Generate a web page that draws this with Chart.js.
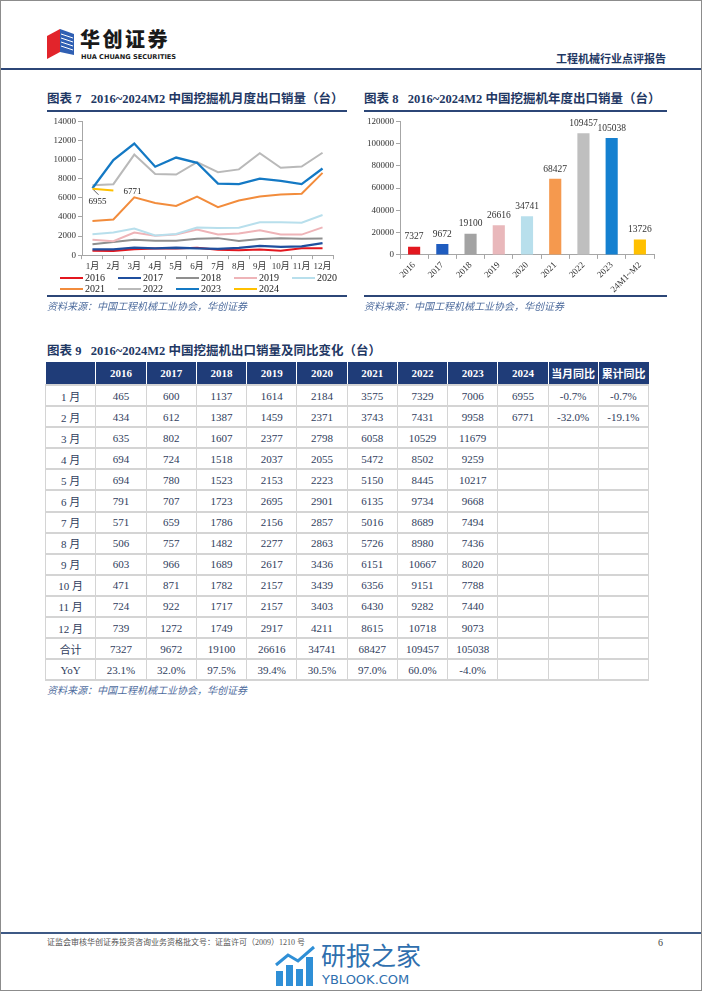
<!DOCTYPE html>
<html>
<head>
<meta charset="utf-8">
<script src="https://cdn.jsdelivr.net/npm/chart.js@4.4.1/dist/chart.umd.min.js"></script>
<style>
  body { margin: 0; background: #fff; }
  #page { position: relative; width: 702px; height: 991px; box-sizing: border-box; border: 1px solid #8c8c8c; overflow: hidden;
          font-family: "Liberation Serif", "Noto Sans CJK SC", serif; }
  .abs { position: absolute; white-space: nowrap; }
  .title { font-weight: bold; color: #1f3864; font-size: 12.5px; line-height: 14px; }
  .rule { position: absolute; height: 2px; background: #2c4677; }
  .src { font-style: italic; color: #4f6d9e; font-size: 10px; line-height: 12px; }
  #legend7 { position: absolute; left: 59px; top: 271px; display: grid; grid-template-columns: repeat(5, 58px); row-gap: 0; }
  #legend7 div { height: 11px; line-height: 11px; font-size: 10px; color: #222; display: flex; align-items: center; }
  #legend7 span.ln { display: inline-block; width: 23px; height: 2px; margin-right: 2px; }
  table { position: absolute; left: 44px; top: 361px; width: 604px; border-collapse: collapse; table-layout: fixed; }
  th { background: #1f3c78; color: #fff; font-weight: bold; font-size: 11px; height: 22px; padding: 0; border-left: 1px solid #fff; }
  th:first-child { border-left: none; }
  td { border: 1px solid #d4d4d4; border-width: 2px 1px; font-size: 11px; color: #2f3d5c; text-align: center; height: 19.1px; padding: 0; }
</style>
</head>
<body>
<div id="page">
  <!-- 页眉 -->
  <svg class="abs" style="left:45px;top:27px" width="30" height="32" viewBox="0 0 30 32">
    <polygon points="1,8 14,1 14,24 1,31" fill="#e2242b"/>
    <polygon points="14,1 28,6 28,27 14,24" fill="#2f5fb3"/>
    <g stroke="#fff" stroke-width="1">
      <line x1="15" y1="6" x2="27" y2="10"/><line x1="15" y1="10" x2="27" y2="14"/>
      <line x1="15" y1="14" x2="27" y2="18"/><line x1="15" y1="18" x2="27" y2="22"/>
    </g>
  </svg>
  <div class="abs" style="left:79px;top:28px;font-family:'Noto Sans CJK SC';font-weight:900;font-size:20px;letter-spacing:2.5px;color:#1a1a1a;line-height:20px">华创证券</div>
  <div class="abs" style="left:80px;top:53px;font-family:'DejaVu Sans';font-weight:bold;font-size:6.6px;color:#1a1a1a;line-height:7px">HUA CHUANG SECURITIES</div>
  <div class="abs" style="left:555px;top:51px;font-family:'Noto Sans CJK SC';font-weight:bold;font-size:11px;color:#1f3864;line-height:13px">工程机械行业点评报告</div>
  <div class="rule" style="left:0;top:67px;width:702px"></div>

  <!-- 图表 7 / 8 -->
  <div class="abs title" style="left:46px;top:91px">图表 7&nbsp;&nbsp;&nbsp;2016~2024M2 中国挖掘机月度出口销量（台）</div>
  <div class="abs title" style="left:363px;top:91px">图表 8&nbsp;&nbsp;&nbsp;2016~2024M2 中国挖掘机年度出口销量（台）</div>
  <div class="rule" style="left:46px;top:109px;width:300px"></div>
  <div class="rule" style="left:363px;top:109px;width:303px"></div>

  <canvas id="c7" class="abs" style="left:46px;top:113px" width="300" height="160"></canvas>
  <div id="legend7"></div>
  <canvas id="c8" class="abs" style="left:363px;top:113px" width="300" height="182"></canvas>

  <div class="rule" style="left:46px;top:294px;width:300px"></div>
  <div class="rule" style="left:363px;top:294px;width:303px"></div>
  <div class="abs src" style="left:46px;top:300px">资料来源：中国工程机械工业协会，华创证券</div>
  <div class="abs src" style="left:363px;top:300px">资料来源：中国工程机械工业协会，华创证券</div>

  <!-- 图表 9 -->
  <div class="abs title" style="left:46px;top:343px">图表 9&nbsp;&nbsp;&nbsp;2016~2024M2 中国挖掘机出口销量及同比变化（台）</div>
  <table id="tbl"></table>
  <div class="abs src" style="left:46px;top:684px">资料来源：中国工程机械工业协会，华创证券</div>

  <!-- 页脚 -->
  <div class="rule" style="left:0;top:931px;width:702px;background:#3d5985"></div>
  <div class="abs" style="left:46px;top:937px;font-size:8px;color:#555;line-height:10px">证监会审核华创证券投资咨询业务资格批文号：证监许可（2009）1210 号</div>
  <div class="abs" style="left:657px;top:936px;font-size:10px;color:#444;line-height:12px">6</div>
  <svg class="abs" style="left:273px;top:944px" width="46" height="42" viewBox="0 0 46 42">
    <rect x="2" y="26" width="7" height="15" fill="#2f8fd6"/>
    <rect x="12" y="20" width="7" height="21" fill="#2f8fd6"/>
    <rect x="22" y="24" width="7" height="17" fill="#2f8fd6"/>
    <rect x="32" y="12" width="7" height="29" fill="#2f8fd6"/>
    <polyline points="2,20 14,10 24,16 40,2" fill="none" stroke="#2f8fd6" stroke-width="3"/>
  </svg>
  <div class="abs" style="left:320px;top:940px;font-family:'Noto Sans CJK SC';font-size:25px;color:#2f6fae;line-height:27px">研报之家</div>
  <div class="abs" style="left:321px;top:972px;font-family:'DejaVu Sans';font-size:13px;color:#2f6fae;line-height:14px">YBLOOK.COM</div>
</div>

<script>
// 月度出口销量（台）
const months = ["1月", "2月", "3月", "4月", "5月", "6月", "7月", "8月", "9月", "10月", "11月", "12月"];
const years = ["2016", "2017", "2018", "2019", "2020", "2021", "2022", "2023", "2024"];
const m2016 = [465, 434, 635, 694, 694, 791, 571, 506, 603, 471, 724, 739];
const m2017 = [600, 612, 802, 724, 780, 707, 659, 757, 966, 871, 922, 1272];
const m2018 = [1137, 1387, 1607, 1518, 1523, 1723, 1786, 1482, 1689, 1782, 1717, 1749];
const m2019 = [1614, 1459, 2377, 2037, 2153, 2695, 2156, 2277, 2617, 2157, 2157, 2917];
const m2020 = [2184, 2371, 2798, 2055, 2223, 2901, 2857, 2863, 3436, 3439, 3403, 4211];
const m2021 = [3575, 3743, 6058, 5472, 5150, 6135, 5016, 5726, 6151, 6356, 6430, 8615];
const m2022 = [7329, 7431, 10529, 8502, 8445, 9734, 8689, 8980, 10667, 9151, 9282, 10718];
const m2023 = [7006, 9958, 11679, 9259, 10217, 9668, 7494, 7436, 8020, 7788, 7440, 9073];
const m2024 = [6955, 6771];
const monthYoy = ["-0.7%", "-32.0%"];
const cumYoy = ["-0.7%", "-19.1%"];

// 年度出口销量（台）
const annualLabels = ["2016", "2017", "2018", "2019", "2020", "2021", "2022", "2023", "24M1~M2"];
const annualTotals = [7327, 9672, 19100, 26616, 34741, 68427, 109457, 105038, 13726];
const yoy = ["23.1%", "32.0%", "97.5%", "39.4%", "30.5%", "97.0%", "60.0%", "-4.0%"];

const monthly = [m2016, m2017, m2018, m2019, m2020, m2021, m2022, m2023, m2024];
const lineColors = ["#e3171f", "#1f4f9e", "#8f8f8f", "#eeb4b8", "#b8dfec", "#f28c3c", "#b9b9b9", "#1479c4", "#ffc000"];
const barColors = ["#e3171f", "#1f5cbf", "#a3a3a3", "#e9b8bb", "#b8dfec", "#f5994e", "#bfbfbf", "#1580d0", "#ffc000"];

const axisColor = "#a6a6a6";
const tickFont = { family: "'Liberation Serif', 'Noto Sans CJK SC'", size: 9 };

// 图表 7 的标注
const notes7 = {
    id: "notes7",
    afterDatasetsDraw(chart) {
        const { ctx, scales } = chart;
        const x0 = scales.x.getPixelForValue(0), y0 = scales.y.getPixelForValue(m2024[0]);
        const x1 = scales.x.getPixelForValue(1), y1 = scales.y.getPixelForValue(m2024[1]);
        ctx.save();
        ctx.strokeStyle = "#333";
        ctx.lineWidth = 0.8;
        ctx.beginPath();
        ctx.moveTo(x0 + 1, y0 + 1);
        ctx.lineTo(x0 + 6, y0 + 6);
        ctx.stroke();
        ctx.font = "9px 'Liberation Serif'";
        ctx.fillStyle = "#222";
        ctx.textAlign = "center";
        ctx.textBaseline = "middle";
        ctx.fillText(m2024[0], x0 + 5, y0 + 13);
        ctx.textAlign = "left";
        ctx.fillText(m2024[1], x1 + 10, y1 + 1);
        ctx.restore();
    }
};

new Chart(document.getElementById("c7"), {
    type: "line",
    data: {
        labels: months,
        datasets: years.map((y, i) => ({
            label: y,
            data: monthly[i],
            borderColor: lineColors[i],
            backgroundColor: lineColors[i],
            borderWidth: (i === 1 || i === 7) ? 2.3 : 2,
            pointRadius: 0,
            tension: 0,
            order: years.length - i
        }))
    },
    options: {
        responsive: false,
        animation: false,
        layout: { padding: { left: 0, right: 14, top: 3, bottom: 0 } },
        plugins: { legend: { display: false }, tooltip: { enabled: false } },
        scales: {
            x: {
                offset: true,
                grid: { offset: true, drawOnChartArea: false, tickLength: 4, color: axisColor },
                border: { color: axisColor },
                ticks: { font: tickFont, color: "#333", padding: 2, autoSkip: false, maxRotation: 0 }
            },
            y: {
                min: 0, max: 14000,
                ticks: { stepSize: 2000, font: tickFont, color: "#333", padding: 2, callback: v => String(v) },
                grid: { drawOnChartArea: false, tickLength: 4, color: axisColor },
                border: { color: axisColor },
                afterFit(scale) { scale.width = 35; }
            }
        }
    },
    plugins: [notes7]
});

// 图例
const legend7 = document.getElementById("legend7");
years.forEach((y, i) => {
    legend7.innerHTML += `<div><span class="ln" style="background:${lineColors[i]}"></span>${y}</div>`;
});

// 图表 8 柱顶数值
const barLabels = {
    id: "barLabels",
    afterDatasetsDraw(chart) {
        const { ctx } = chart;
        const meta = chart.getDatasetMeta(0);
        ctx.save();
        ctx.font = "9.5px 'Liberation Serif'";
        ctx.fillStyle = "#333";
        ctx.textAlign = "center";
        ctx.textBaseline = "bottom";
        meta.data.forEach((bar, i) => {
            ctx.fillText(chart.data.datasets[0].data[i], bar.x, bar.y - 5);
        });
        ctx.restore();
    }
};

new Chart(document.getElementById("c8"), {
    type: "bar",
    data: {
        labels: annualLabels,
        datasets: [{
            label: "出口销量",
            data: annualTotals,
            backgroundColor: barColors,
            barPercentage: 0.43,
            categoryPercentage: 1
        }]
    },
    options: {
        responsive: false,
        animation: false,
        layout: { padding: { left: 0, right: 10, top: 3, bottom: 0 } },
        plugins: { legend: { display: false }, tooltip: { enabled: false } },
        scales: {
            x: {
                grid: { drawOnChartArea: false, tickLength: 4, color: axisColor },
                border: { color: axisColor },
                ticks: { font: tickFont, color: "#333", padding: 1, autoSkip: false, minRotation: 45, maxRotation: 45 }
            },
            y: {
                min: 0, max: 120000,
                ticks: { stepSize: 20000, font: tickFont, color: "#333", padding: 2, callback: v => String(v) },
                grid: { drawOnChartArea: false, tickLength: 4, color: axisColor },
                border: { color: axisColor },
                afterFit(scale) { scale.width = 36; }
            }
        }
    },
    plugins: [barLabels]
});

// 图表 9 表格
const tbl = document.getElementById("tbl");
let html = "<tr><th></th>" + years.map(y => `<th>${y}</th>`).join("") +
    "<th style=\"font-family:'Noto Sans CJK SC'\">当月同比</th><th style=\"font-family:'Noto Sans CJK SC'\">累计同比</th></tr>";
months.forEach((m, r) => {
    html += `<tr><td>${m.replace("月", " 月")}</td>`;
    monthly.forEach(arr => { html += `<td>${arr[r] !== undefined ? arr[r] : ""}</td>`; });
    html += `<td>${monthYoy[r] || ""}</td><td>${cumYoy[r] || ""}</td></tr>`;
});
html += "<tr><td>合计</td>" + annualTotals.slice(0, 8).map(v => `<td>${v}</td>`).join("") + "<td></td><td></td><td></td></tr>";
html += "<tr><td>YoY</td>" + yoy.map(v => `<td>${v}</td>`).join("") + "<td></td><td></td><td></td></tr>";
tbl.innerHTML = html;
</script>
</body>
</html>
